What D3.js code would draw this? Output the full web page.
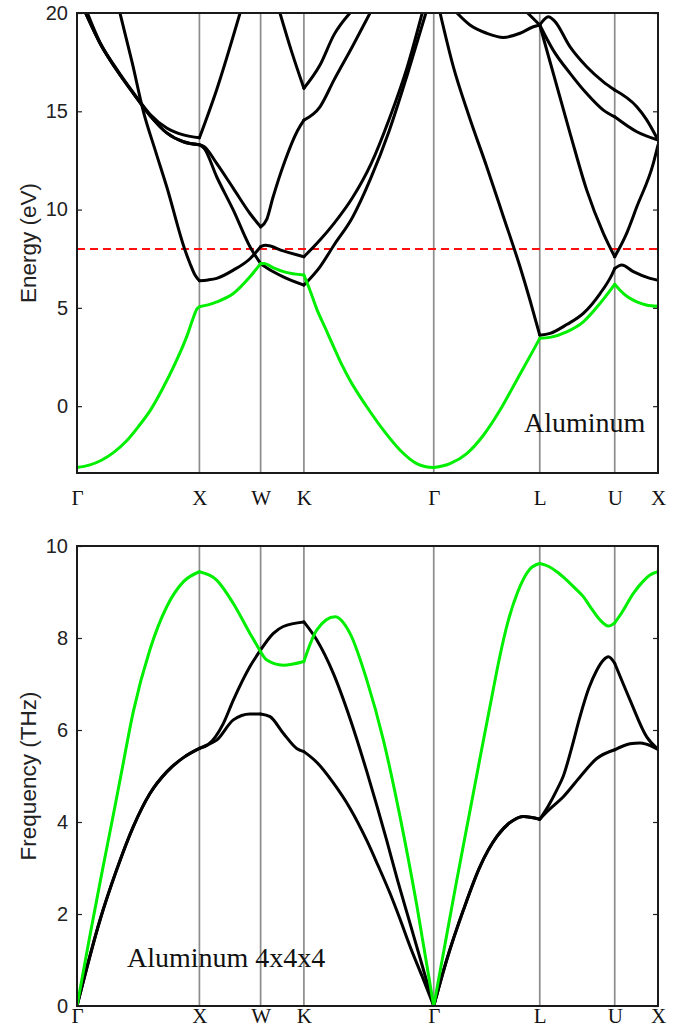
<!DOCTYPE html>
<html>
<head>
<meta charset="utf-8">
<script src="https://cdn.jsdelivr.net/npm/d3@7"></script>
<style>
  body { margin: 0; background: #fff; }
  svg { display: block; }
</style>
</head>
<body>
<svg id="chart" width="691" height="1028"></svg>
<script>
// High-symmetry path of the fcc Brillouin zone (path length in units of 2π/a)
const kLabels = ["Γ", "X", "W", "K", "Γ", "L", "U", "X"];
const kPoints = [0, 1, 1.5, 1.8536, 2.9142, 3.7802, 4.3926, 4.7462];

const energyTicks = [0, 5, 10, 15, 20];
const freqTicks = [0, 2, 4, 6, 8, 10];
const fermiLevel = 8;

// Electronic bands, [k, energy in eV]; null breaks a band where it leaves the window
const band1 = [
  [0, -3.12], [0.1, -3.0], [0.2, -2.75], [0.3, -2.35], [0.4, -1.8], [0.5, -1.05], [0.6, -0.2],
  [0.7, 0.9], [0.8, 2.15], [0.9, 3.6], [0.95, 4.5], [0.98, 4.95], [1, 5.06],
  [1.07, 5.15], [1.141, 5.3], [1.277, 5.73], [1.413, 6.58], [1.5, 7.25],
  [1.53, 7.26], [1.6, 7.05], [1.7, 6.82], [1.8536, 6.67],
  [1.9, 5.95], [1.958, 4.95], [2.03, 3.95], [2.094, 3.05], [2.16, 2.15], [2.23, 1.32], [2.3, 0.6],
  [2.367, -0.03], [2.503, -1.22], [2.64, -2.24], [2.775, -2.92], [2.85, -3.08], [2.9142, -3.12],
  [3.047, -2.92], [3.184, -2.41], [3.32, -1.48], [3.456, -0.2], [3.592, 1.32], [3.728, 2.85], [3.7802, 3.45],
  [3.864, 3.5], [4.0, 3.78], [4.136, 4.29], [4.273, 5.23], [4.3926, 6.2],
  [4.436, 5.9], [4.5, 5.55], [4.573, 5.31], [4.65, 5.15], [4.7462, 5.08]
];
const band2 = [
  [0.351, 20], [0.45, 17.5], [0.542, 15.0], [0.64, 13.0], [0.733, 11.16], [0.882, 7.94], [0.923, 7.26],
  [0.964, 6.67], [1, 6.38],
  [1.07, 6.42], [1.141, 6.5], [1.277, 6.92], [1.413, 7.5], [1.5, 8.11],
  [1.54, 8.18], [1.685, 7.9], [1.8536, 7.6],
  [1.985, 8.45], [2.1, 9.3], [2.25, 10.6], [2.4, 12.3], [2.55, 14.6], [2.7, 17.3], [2.82, 20],
  null,
  [2.966, 20], [3.074, 17.27], [3.2, 14.8], [3.347, 12.18], [3.48, 9.7], [3.619, 7.09], [3.7, 5.4], [3.7802, 3.61],
  [3.864, 3.7], [4.0, 4.15], [4.136, 4.72], [4.273, 5.73], [4.368, 6.67], [4.3926, 7.0],
  [4.45, 7.18], [4.545, 6.84], [4.681, 6.5], [4.7462, 6.41]
];
const band3 = [
  [0.07, 20], [0.188, 18.46], [0.324, 17.1], [0.46, 15.91], [0.596, 14.78], [0.733, 13.9], [0.869, 13.45], [1, 13.3],
  [1.04, 13.1], [1.141, 11.67], [1.277, 9.97], [1.413, 8.11], [1.5, 7.25],
  [1.6, 6.85], [1.685, 6.58], [1.8536, 6.16],
  [1.985, 7.09], [2.1, 8.2], [2.25, 9.6], [2.4, 11.6], [2.55, 14.0], [2.7, 16.9], [2.85, 20],
  null,
  [3.104, 20], [3.21, 19.39], [3.347, 18.97], [3.483, 18.76], [3.619, 18.97], [3.728, 19.3], [3.7802, 19.39],
  [3.891, 18.1], [4.028, 16.93], [4.164, 15.9], [4.3, 15.06], [4.3926, 14.72],
  [4.573, 13.96], [4.7462, 13.54]
];
const band4 = [
  [0.07, 20], [0.188, 18.46], [0.324, 17.1], [0.46, 15.91], [0.596, 14.78], [0.733, 13.9], [0.869, 13.45], [1, 13.3],
  [1.04, 13.2], [1.141, 12.35], [1.277, 11.08], [1.413, 9.8], [1.5, 9.12],
  [1.55, 9.5], [1.6, 10.6], [1.7, 12.5], [1.8, 14.0], [1.8536, 14.55],
  [1.985, 15.23], [2.1, 16.6], [2.25, 18.3], [2.394, 20],
  null,
  [3.681, 20], [3.7802, 19.39],
  [4.028, 13.88], [4.164, 10.99], [4.3, 8.79], [4.3926, 7.6],
  [4.49, 8.79], [4.573, 10.14], [4.708, 12.35], [4.7462, 13.28]
];
const band5 = [
  [0.085, 20], [0.188, 18.5], [0.324, 17.15], [0.46, 15.95], [0.596, 14.85], [0.733, 14.15], [0.869, 13.8], [1, 13.65],
  [1.141, 16.1], [1.332, 20],
  null,
  [1.658, 20], [1.75, 18.1], [1.8536, 16.17],
  [1.985, 17.35], [2.1, 18.9], [2.23, 20],
  null,
  [3.7802, 19.39], [3.851, 19.81], [3.9, 19.6], [4.028, 18.28], [4.164, 17.27], [4.3, 16.5], [4.3926, 16.08],
  [4.573, 15.23], [4.65, 14.6], [4.7462, 13.54]
];

// Phonon branches, [k, frequency in THz]
const phononTA1 = [
  [0, 0], [0.188, 1.87], [0.324, 2.96], [0.46, 3.9], [0.596, 4.62], [0.733, 5.09], [0.869, 5.4], [1, 5.6],
  [1.07, 5.68], [1.141, 5.78], [1.277, 6.22], [1.413, 6.35], [1.5, 6.35],
  [1.577, 6.29], [1.685, 5.93], [1.795, 5.6], [1.8536, 5.53],
  [1.958, 5.3], [2.094, 4.85], [2.23, 4.3], [2.367, 3.6], [2.46, 3.05], [2.557, 2.45], [2.64, 1.88],
  [2.72, 1.3], [2.82, 0.64], [2.9142, 0],
  [3.02, 1.0], [3.157, 2.09], [3.292, 3.03], [3.429, 3.68], [3.565, 4.04], [3.646, 4.12], [3.7802, 4.06],
  [3.85, 4.25], [3.973, 4.55], [4.109, 4.98], [4.246, 5.38], [4.3926, 5.57],
  [4.518, 5.7], [4.6, 5.72], [4.654, 5.69], [4.7462, 5.58]
];
const phononTA2 = [
  [0, 0], [0.188, 1.87], [0.324, 2.96], [0.46, 3.9], [0.596, 4.62], [0.733, 5.09], [0.869, 5.4], [1, 5.6],
  [1.07, 5.68], [1.195, 6.14], [1.277, 6.65], [1.413, 7.38], [1.5, 7.74],
  [1.604, 8.1], [1.685, 8.25], [1.8536, 8.35],
  [1.958, 7.96], [2.094, 7.23], [2.23, 6.25], [2.367, 5.1], [2.45, 4.35], [2.53, 3.6], [2.62, 2.72],
  [2.72, 1.8], [2.82, 0.88], [2.9142, 0],
  [3.02, 1.0], [3.157, 2.09], [3.292, 3.03], [3.429, 3.68], [3.565, 4.04], [3.646, 4.12], [3.7802, 4.06],
  [3.85, 4.35], [3.92, 4.7], [3.973, 5.0], [4.04, 5.6], [4.109, 6.29], [4.18, 6.9], [4.246, 7.3],
  [4.3, 7.52], [4.341, 7.59], [4.3926, 7.45],
  [4.518, 6.65], [4.654, 5.85], [4.7462, 5.58]
];
const phononLA = [
  [0, 0], [0.1, 1.45], [0.2, 2.85], [0.3, 4.2], [0.365, 5.1], [0.46, 6.4], [0.596, 7.75], [0.733, 8.68], [0.868, 9.22], [1, 9.44],
  [1.141, 9.26], [1.277, 8.75], [1.413, 8.1], [1.5, 7.7],
  [1.55, 7.52], [1.685, 7.41], [1.8536, 7.49],
  [1.958, 8.17], [2.108, 8.46], [2.23, 8.1], [2.367, 7.09], [2.503, 5.78], [2.64, 4.1], [2.775, 2.2], [2.9142, 0],
  [3.0, 1.25], [3.1, 2.7], [3.2, 4.1], [3.3, 5.5], [3.38, 6.6], [3.45, 7.55], [3.52, 8.35], [3.6, 9.0],
  [3.7, 9.5], [3.7802, 9.62],
  [3.85, 9.56], [3.92, 9.44], [4.0, 9.26], [4.07, 9.08], [4.136, 8.9], [4.2, 8.65], [4.273, 8.39],
  [4.341, 8.26], [4.3926, 8.33],
  [4.45, 8.55], [4.545, 8.97], [4.62, 9.22], [4.681, 9.37], [4.7462, 9.44]
];

const electronBands = [band2, band3, band4, band5];
const phononBranches = [phononTA1, phononTA2];

const svg = d3.select("#chart");
const left = 77, right = 658;

const x = d3.scaleLinear().domain([0, kPoints[kPoints.length - 1]]).range([left, right]);

const green = "#00ef00";
const sans = "'Liberation Sans', Arial, Helvetica, sans-serif";
const serif = "'Liberation Serif', 'Times New Roman', serif";

// Split a band into pieces at every high-symmetry point so kinks stay sharp
function pieces(series) {
  const out = [];
  let cur = [];
  series.forEach(p => {
    if (p === null) {
      if (cur.length > 1) out.push(cur);
      cur = [];
      return;
    }
    cur.push(p);
    if (cur.length > 1 && kPoints.some(t => Math.abs(t - p[0]) < 1e-6)) {
      out.push(cur);
      cur = [p];
    }
  });
  if (cur.length > 1) out.push(cur);
  return out;
}

function panel(opts) {
  const { id, top, bottom, y, yTicks, yLabel, labelX, kLabelPad, series, highlight, note } = opts;
  const g = svg.append("g");

  g.append("clipPath").attr("id", id)
    .append("rect").attr("x", left).attr("y", top).attr("width", right - left).attr("height", bottom - top);

  // vertical guides at high-symmetry points
  g.append("g").selectAll("line").data(kPoints.slice(1, -1)).join("line")
    .attr("x1", d => x(d)).attr("x2", d => x(d))
    .attr("y1", top).attr("y2", bottom)
    .attr("stroke", "#8c8c8c").attr("stroke-width", 1.7);

  const plot = g.append("g").attr("clip-path", `url(#${id})`);
  if (opts.extra) opts.extra(plot);

  const line = d3.line()
    .x(d => x(d[0])).y(d => y(d[1]))
    .curve(d3.curveMonotoneX);

  series.forEach(s => {
    plot.append("g").selectAll("path").data(pieces(s)).join("path")
      .attr("d", line).attr("fill", "none")
      .attr("stroke", "#000").attr("stroke-width", 3)
      .attr("stroke-linejoin", "round").attr("stroke-linecap", "round");
  });
  plot.append("g").selectAll("path").data(pieces(highlight)).join("path")
    .attr("d", line).attr("fill", "none")
    .attr("stroke", green).attr("stroke-width", 3)
    .attr("stroke-linejoin", "round").attr("stroke-linecap", "round");

  // y axis with inward ticks, mirrored on the right
  const ya = g.append("g").attr("transform", `translate(${left},0)`)
    .call(d3.axisLeft(y).tickValues(yTicks).tickSizeInner(-5).tickSizeOuter(0).tickPadding(9));
  ya.select(".domain").remove();
  ya.selectAll(".tick line").attr("stroke", "#222").attr("stroke-width", 1.2);
  ya.selectAll(".tick text").attr("font-family", sans).attr("font-size", 20).attr("fill", "#222");

  const yr = g.append("g").attr("transform", `translate(${right},0)`)
    .call(d3.axisRight(y).tickValues(yTicks).tickSizeInner(-5).tickSizeOuter(0).tickFormat(""));
  yr.select(".domain").remove();
  yr.selectAll(".tick line").attr("stroke", "#222").attr("stroke-width", 1.2);

  // k-path labels
  const xa = g.append("g").attr("transform", `translate(0,${bottom})`)
    .call(d3.axisBottom(x).tickValues(kPoints).tickFormat((d, i) => kLabels[i]).tickSize(0).tickPadding(kLabelPad));
  xa.select(".domain").remove();
  xa.selectAll(".tick text").attr("font-family", serif).attr("font-size", 21).attr("fill", "#111");

  // frame
  g.append("rect").attr("x", left).attr("y", top).attr("width", right - left).attr("height", bottom - top)
    .attr("fill", "none").attr("stroke", "#1a1a1a").attr("stroke-width", 2);

  g.append("text")
    .attr("transform", `translate(${labelX},${(top + bottom) / 2}) rotate(-90)`)
    .attr("text-anchor", "middle")
    .attr("font-family", sans).attr("font-size", 22.5).attr("fill", "#222")
    .text(yLabel);

  g.append("text")
    .attr("x", note.x).attr("y", note.y)
    .attr("font-family", serif).attr("font-size", 28).attr("fill", "#111")
    .text(note.text);
}

// Electronic band structure
const yE = d3.scaleLinear().domain([-3.4, 20]).range([473, 13]);
panel({
  id: "clip-bands", top: 13, bottom: 473, y: yE, yTicks: energyTicks,
  yLabel: "Energy (eV)", labelX: 36, kLabelPad: 17,
  series: electronBands, highlight: band1,
  note: { x: 524, y: 432, text: "Aluminum" },
  extra: plot => {
    plot.append("line")
      .attr("x1", left).attr("x2", right)
      .attr("y1", yE(fermiLevel)).attr("y2", yE(fermiLevel))
      .attr("stroke", "#ff1010").attr("stroke-width", 2).attr("stroke-dasharray", "8,5");
  }
});

// Phonon dispersion
const yF = d3.scaleLinear().domain([0, 10]).range([1006, 546]);
panel({
  id: "clip-phonons", top: 546, bottom: 1006, y: yF, yTicks: freqTicks,
  yLabel: "Frequency (THz)", labelX: 36, kLabelPad: 2,
  series: phononBranches, highlight: phononLA,
  note: { x: 127, y: 967, text: "Aluminum 4x4x4" }
});
</script>
</body>
</html>
